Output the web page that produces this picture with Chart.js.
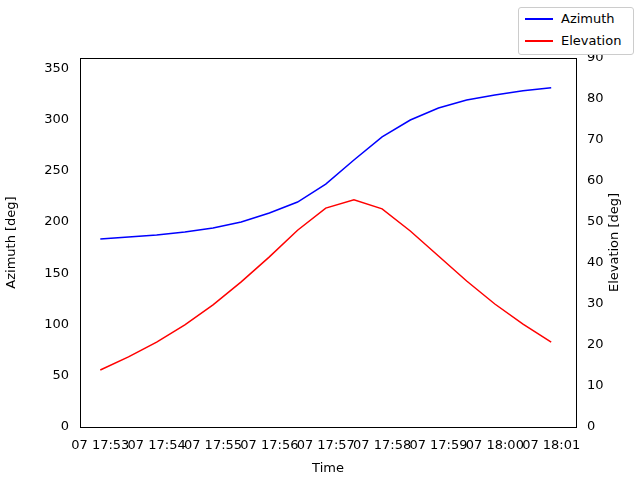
<!DOCTYPE html>
<html><head><script src="https://cdn.jsdelivr.net/npm/chart.js"></script>
<style>body{margin:0;background:#fff}#w{position:relative;width:640px;height:480px}
#lg{position:absolute;left:518px;top:7px;width:114px;height:46px;border:1px solid #ccc;border-radius:3px;background:#fff;font:13px 'DejaVu Sans';}
#lg div{height:22px;line-height:22px;display:flex;align-items:center}
#lg span{display:inline-block;width:28px;height:2px;margin:0 8px 0 6px}</style></head>
<body><div id="w"><canvas id="c" width="640" height="480"></canvas>
<div id="lg"><div><span style="background:#0000ff"></span>Azimuth</div><div><span style="background:#ff0000"></span>Elevation</div></div></div>
<script>
const minutes=[0,0.5,1,1.5,2,2.5,3,3.5,4,4.5,5,5.5,6,6.5,7,7.5,8];
const tickLabels=['07 17:53','07 17:54','07 17:55','07 17:56','07 17:57','07 17:58','07 17:59','07 18:00','07 18:01'];
const azimuth=[183.4,185.4,187.3,190.2,194.1,200,208.8,219.5,237,260.5,283,299.5,311.2,319,324,328,331];
const elevation=[13.9,17.1,20.7,24.9,29.8,35.4,41.5,48,53.4,55.4,53.2,47.8,41.7,35.6,30,25.1,20.7];
const azTicks=[0,50,100,150,200,250,300,350];
const elTicks=[0,10,20,30,40,50,60,70,80,90];
Chart.defaults.font.family='DejaVu Sans';Chart.defaults.font.size=13;Chart.defaults.color='#000';
const pts=a=>a.map((v,i)=>({x:minutes[i],y:v}));
const deco={id:'deco',afterDraw(c){const a=c.chartArea,g=c.ctx;g.save();g.strokeStyle='#000';g.lineWidth=1;
g.strokeRect(a.left+0.5,a.top+0.5,a.right-a.left,a.bottom-a.top);
g.translate(615,(a.top+a.bottom)/2);g.rotate(-Math.PI/2);g.font='13px DejaVu Sans';g.fillStyle='#000';g.textAlign='center';g.textBaseline='middle';g.fillText('Elevation [deg]',0,0);g.restore();}};
new Chart(document.getElementById('c'),{type:'line',
data:{datasets:[{label:'Azimuth',data:pts(azimuth),borderColor:'#0000ff',borderWidth:1.5,pointRadius:0,yAxisID:'y'},
{label:'Elevation',data:pts(elevation),borderColor:'#ff0000',borderWidth:1.5,pointRadius:0,yAxisID:'y1'}]},
options:{animation:false,responsive:false,layout:{padding:{top:58,left:0,right:0,bottom:0}},
plugins:{legend:{display:false},tooltip:{enabled:false}},
scales:{x:{type:'linear',min:-0.36,max:8.44,grid:{display:false},border:{color:'#000'},
afterBuildTicks:s=>{s.ticks=tickLabels.map((t,i)=>({value:i}));},afterFit:s=>{s.height=53;},
ticks:{maxRotation:0,autoSkip:false,callback:(v)=>tickLabels[v]},title:{display:true,text:'Time',padding:{top:0}}},
y:{position:'left',min:0,max:360,grid:{display:false},border:{color:'#000'},afterBuildTicks:s=>{s.ticks=azTicks.map(v=>({value:v}));},afterFit:s=>{s.width=80;},title:{display:true,text:'Azimuth [deg]'}},
y1:{position:'right',min:0,max:90,grid:{display:false},border:{color:'#000'},afterBuildTicks:s=>{s.ticks=elTicks.map(v=>({value:v}));},afterFit:s=>{s.width=64;},title:{display:false}}}},
plugins:[deco]});
</script></body></html>
